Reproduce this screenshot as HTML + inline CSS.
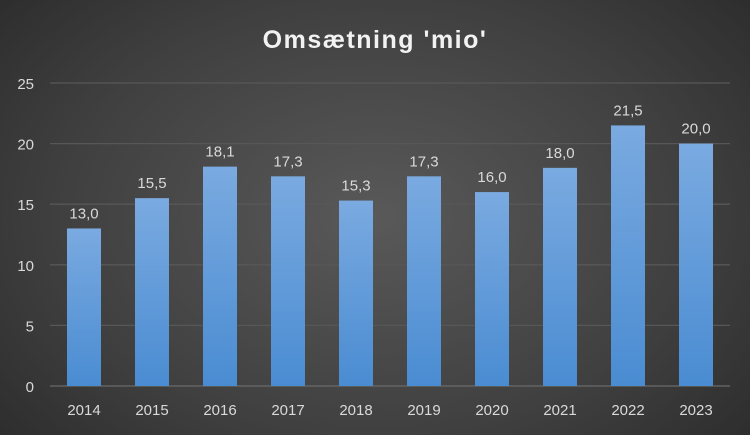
<!DOCTYPE html>
<html><head><meta charset="utf-8"><style>
html,body{margin:0;padding:0;}
body{width:750px;height:435px;overflow:hidden;background:radial-gradient(ellipse 75% 90% at 50% 50%,#595959 0%,#404040 55%,#262626 100%);font-family:"Liberation Sans",sans-serif;}
svg{display:block}
</style></head><body>
<svg id="chart" width="750" height="435" xmlns="http://www.w3.org/2000/svg">
<defs><linearGradient id="bg" x1="0" y1="0" x2="0" y2="1"><stop offset="0" stop-color="#7aaae0"/><stop offset="1" stop-color="#4a8cd2"/></linearGradient></defs>
<text x="375" y="48" text-anchor="middle" fill="#f2f2f2" font-size="25" font-weight="bold" letter-spacing="1.5">Omsætning 'mio'</text>
</svg>
<script>
const categories=["2014","2015","2016","2017","2018","2019","2020","2021","2022","2023"];
const values=[13.0,15.5,18.1,17.3,15.3,17.3,16.0,18.0,21.5,20.0];
const valueLabels=["13,0","15,5","18,1","17,3","15,3","17,3","16,0","18,0","21,5","20,0"];
const yTicks=[0,5,10,15,20,25];
const svg=document.getElementById('chart');const NS='http://www.w3.org/2000/svg';
const x0=50,x1=730,y0=386,y1=83,maxV=25;
const band=(x1-x0)/categories.length;
const y=v=>y0-(v/maxV)*(y0-y1);
const xc=i=>x0+band*(i+0.5);
function mk(t,a,txt){const e=document.createElementNS(NS,t);for(const k in a)e.setAttribute(k,a[k]);if(txt!=null)e.textContent=txt;svg.appendChild(e);return e;}
yTicks.forEach(t=>{
 const l=mk('line',{x1:x0,x2:x1,y1:y(t),y2:y(t),stroke:t===0?'#6a6a6a':'#575757','stroke-width':1.3});
 
 
 const tx=mk('text',{x:34,y:y(t)+6,'text-anchor':'end',fill:'#d9d9d9','font-size':15},String(t));
 
 
});
const bw=34;
values.forEach((v,i)=>{
 const r=mk('rect',{x:xc(i)-bw/2,y:y(v),width:bw,height:y0-y(v),fill:'url(#bg)'});
 
 
 const lb=mk('text',{x:xc(i),y:y(v)-10,'text-anchor':'middle',fill:'#d9d9d9','font-size':15},valueLabels[i]);
 
 
 const c=mk('text',{x:xc(i),y:415,'text-anchor':'middle',fill:'#d9d9d9','font-size':15},categories[i]);
 
 
});
</script>
</body></html>
